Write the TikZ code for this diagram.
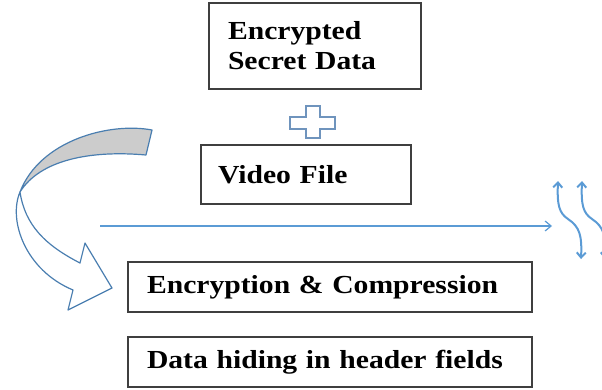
\documentclass[tikz,border=0pt]{standalone}
\usepackage{fontspec}
\setmainfont{Liberation Serif}[FakeStretch=1.14]
\usetikzlibrary{arrows.meta}
\definecolor{boxline}{HTML}{3F3F3F}
\definecolor{arrline}{HTML}{5B9BD5}
\definecolor{shapeline}{HTML}{4A7EB0}
\definecolor{plusline}{HTML}{6F94BD}
\definecolor{backgray}{HTML}{CCCCCC}
\tikzset{
  stepbox/.style={draw=boxline, line width=1.4pt, rectangle, inner ysep=0pt,
    align=left, font=\fontsize{26}{30}\selectfont\bfseries, anchor=center},
  flowline/.style={draw=arrline, line width=1.2pt, -{Straight Barb[length=6pt,width=10pt]}},
  wavearrow/.style={draw=arrline, line width=2pt, {Straight Barb[length=5pt,width=9pt]}-{Straight Barb[length=5pt,width=9pt]}},
  blockarrow/.style={draw=shapeline, line width=1.2pt, line join=round},
}
\begin{document}
\begin{tikzpicture}[x=1pt,y=-1pt]
\useasboundingbox (0,0) rectangle (602,389);
% boxes
\node[stepbox, inner xsep=19pt, text width=174pt, minimum height=86pt] (secret) at (315,46)
  {Encrypted\\Secret Data};
\node[stepbox, inner xsep=17pt, text width=176pt, minimum height=59pt] (video) at (306,174.5)
  {Video File};
\node[stepbox, inner xsep=19pt, text width=366pt, minimum height=50pt] (enc) at (330,287)
  {Encryption \& Compression};
\node[stepbox, inner xsep=19pt, text width=366pt, minimum height=50pt] (hide) at (330,362)
  {Data hiding in header fields};
% plus sign
\draw[draw=plusline, line width=1.3pt, fill=white]
  (306,106) -- (320,106) -- (320,117) -- (335,117) -- (335,129) -- (320,129)
  -- (320,138) -- (306,138) -- (306,129) -- (290,129) -- (290,117) -- (306,117) -- cycle;
% horizontal arrow
\coordinate (hs) at (100,226);
\coordinate (he) at (552,226);
\draw[flowline] (hs) -- (he);
% wavy double arrows
\coordinate (w1a) at (558,181);
\coordinate (w1b) at (581,259);
\coordinate (w2a) at (582,181);
\coordinate (w2b) at (605,259);
\draw[wavearrow] (w1a) .. controls (557,205) and (559,213) .. (568,219)
  .. controls (580,227) and (582,236) .. (w1b);
\draw[wavearrow] (w2a) .. controls (581,205) and (583,213) .. (592,219)
  .. controls (604,227) and (606,236) .. (w2b);
% curved block arrow: lower (front) part
\draw[blockarrow, fill=white]
  (20,192) .. controls (8,220) and (25,270) .. (73,290)
  -- (68,310) -- (112,288) -- (85,243) -- (80,263)
  .. controls (45,245) and (25,225) .. (20,192) -- cycle;
% curved block arrow: upper (back) part
\draw[blockarrow, fill=backgray]
  (152,130) .. controls (110,122) and (40,140) .. (20,192)
  .. controls (40,160) and (90,150) .. (146,155) -- cycle;
\end{tikzpicture}
\end{document}
